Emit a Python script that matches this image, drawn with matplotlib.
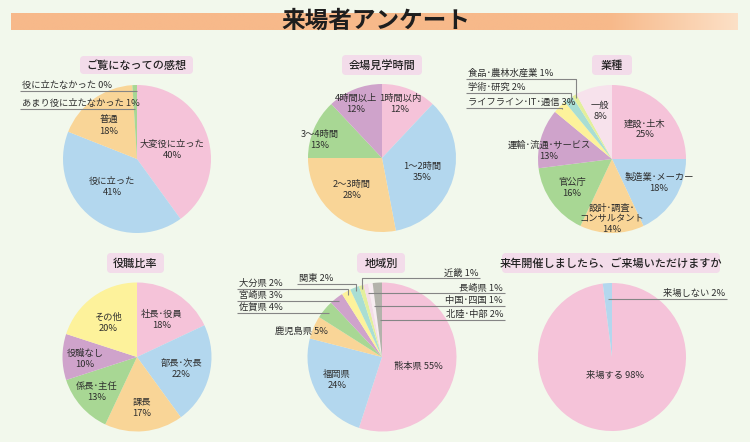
import matplotlib
matplotlib.use("Agg")
import matplotlib.pyplot as plt
import numpy as np
from matplotlib.patches import FancyBboxPatch
from matplotlib.colors import to_rgb

plt.rcParams['font.family'] = ['Noto Sans CJK JP', 'DejaVu Sans']

# ---------------- data ----------------
title = "来場者アンケート"

impr_title = "ご覧になっての感想"
impr_labels = ["大変役に立った", "役に立った", "普通", "あまり役に立たなかった", "役に立たなかった"]
impr_values = [40, 41, 18, 1, 0]

time_title = "会場見学時間"
time_labels = ["1時間以内", "1～2時間", "2～3時間", "3～4時間", "4時間以上"]
time_values = [12, 35, 28, 13, 12]

ind_title = "業種"
ind_labels = ["建設･土木", "製造業･メーカー", "設計･調査･\nコンサルタント", "官公庁",
              "運輸･流通･サービス", "ライフライン･IT･通信", "学術･研究", "食品･農林水産業", "一般"]
ind_values = [25, 18, 14, 16, 13, 3, 2, 1, 8]

pos_title = "役職比率"
pos_labels = ["社長･役員", "部長･次長", "課長", "係長･主任", "役職なし", "その他"]
pos_values = [18, 22, 17, 13, 10, 20]

reg_title = "地域別"
reg_labels = ["熊本県", "福岡県", "鹿児島県", "佐賀県", "宮崎県", "大分県", "関東",
              "近畿", "長崎県", "中国･四国", "北陸･中部"]
reg_values = [55, 24, 5, 4, 3, 2, 2, 1, 1, 1, 2]

next_title = "来年開催しましたら、ご来場いただけますか"
next_labels = ["来場する", "来場しない"]
next_values = [98, 2]

# ---------------- style ----------------
W, H = 750, 442
BG = '#f2f8ec'
TXT = '#2e2e2e'
LINE = '#858585'
BOX = '#f3dcea'
PINK = '#f5c3d9'; BLUE = '#b3d7ee'; PEACH = '#f9d597'; GREEN = '#a8d794'
PURPLE = '#cfa3cb'; YELLOW = '#fdf29b'; LPINK = '#f7e2ec'; TEAL = '#a9ded3'
YGREEN = '#e3ef9c'; GREY = '#b3b3ab'; LPINK2 = '#f4dde8'; WPINK = '#f8edf2'

FS = 6.7

fig = plt.figure(figsize=(7.5, 4.42), dpi=100, facecolor=BG)
ov = fig.add_axes([0, 0, 1, 1], zorder=5)
ov.patch.set_alpha(0)
ov.axis('off')


def draw_pie(cx, cy, r, values, colors):
    ax = fig.add_axes([(cx - r) / W, 1 - (cy + r) / H, 2 * r / W, 2 * r / H], zorder=1)
    ax.pie(values, colors=colors, startangle=90, counterclock=False, radius=1,
           wedgeprops=dict(linewidth=0))
    ax.set_xlim(-1, 1); ax.set_ylim(-1, 1)
    ax.axis('off')
    return ax


def mid_angle(values, i):
    tot = float(sum(values))
    return 2 * np.pi * (sum(values[:i]) + values[i] / 2.0) / tot


def leader(cx, cy, r, values, i, y_ul, x_text):
    th = mid_angle(values, i)
    c = np.cos(th)
    d = (cy - y_ul) / c if c > 1e-6 else np.inf
    if d <= 0.93 * r:
        tx = cx + d * np.sin(th)
        xs, ys = [x_text, tx], [y_ul, y_ul]
    else:
        px = cx + 0.95 * r * np.sin(th)
        py = cy - 0.95 * r * np.cos(th)
        xs, ys = [x_text, px, px], [y_ul, y_ul, py]
    ov.plot(xs, ys, color=LINE, lw=0.8, solid_capstyle='butt', zorder=6)


def box_title(x0, x1, y0, y1, text):
    ov.add_patch(FancyBboxPatch((x0, y0), x1 - x0, y1 - y0,
                                boxstyle="round,pad=0,rounding_size=4",
                                fc=BOX, ec='none', zorder=2))
    ov.text((x0 + x1) / 2, (y0 + y1) / 2 + 0.5, text, ha='center', va='center',
            fontsize=8, color='#222222', weight='medium', zorder=3)


def inner(x, y, name, v, one_line=False):
    s = f"{name} {v}%" if one_line else f"{name}\n{v}%"
    ov.text(x, y, s, ha='center', va='center', fontsize=FS, color=TXT,
            linespacing=1.25, zorder=7)


def outer(x, y, name, v, ha):
    ov.text(x, y, f"{name} {v}%", ha=ha, va='center', fontsize=FS, color=TXT, zorder=7)


# ---------------- title band ----------------
n = 400
xs = np.linspace(11, 738, n)
t = np.clip((xs - 610) / (738 - 610), 0, 1)[:, None]
c0 = np.array(to_rgb('#f7b98a')); c1 = np.array(to_rgb('#fce0c6'))
grad = (c0 * (1 - t) + c1 * t)[None, :, :]
ov.imshow(grad, extent=[11, 738, 30, 13], aspect='auto', zorder=1, interpolation='bilinear')
ov.text(376, 21, title, ha='center', va='center', fontsize=17, weight='bold',
        color='#1e1e1e', zorder=3)

# ---------------- pie 1 : impressions ----------------
cx, cy, r = 137, 159, 74
draw_pie(cx, cy, r, impr_values, [PINK, BLUE, PEACH, GREEN, PURPLE])
box_title(80, 193, 56, 74, impr_title)
inner(172, 150, impr_labels[0], impr_values[0])
inner(112, 187, impr_labels[1], impr_values[1])
inner(109, 126, impr_labels[2], impr_values[2])
outer(22, 85, impr_labels[4], impr_values[4], 'left')
leader(cx, cy, r, impr_values, 4, 91, 20)
outer(22, 103, impr_labels[3], impr_values[3], 'left')
leader(cx, cy, r, impr_values, 3, 109, 20)

# ---------------- pie 2 : time ----------------
cx, cy, r = 382, 158, 74
draw_pie(cx, cy, r, time_values, [PINK, BLUE, PEACH, GREEN, PURPLE])
box_title(342, 422, 55, 75, time_title)
inner(400, 104, time_labels[0], time_values[0])
inner(422, 172, time_labels[1], time_values[1])
inner(352, 190, time_labels[2], time_values[2])
inner(320, 140, time_labels[3], time_values[3])
inner(356, 104, time_labels[4], time_values[4])

# ---------------- pie 3 : industry ----------------
cx, cy, r = 612, 159, 74
draw_pie(cx, cy, r, ind_values, [PINK, BLUE, PEACH, GREEN, PURPLE, YELLOW, TEAL, YGREEN, LPINK])
box_title(592, 632, 55, 75, ind_title)
inner(645, 129, ind_labels[0], ind_values[0])
inner(659, 183, ind_labels[1], ind_values[1])
inner(612, 219, ind_labels[2], ind_values[2])
inner(572, 188, ind_labels[3], ind_values[3])
inner(549, 151, ind_labels[4], ind_values[4])
inner(600, 111, ind_labels[8], ind_values[8])
outer(468, 73, ind_labels[7], ind_values[7], 'left')
leader(cx, cy, r, ind_values, 7, 79, 466)
outer(468, 87, ind_labels[6], ind_values[6], 'left')
leader(cx, cy, r, ind_values, 6, 93, 466)
outer(468, 102, ind_labels[5], ind_values[5], 'left')
leader(cx, cy, r, ind_values, 5, 108, 466)

# ---------------- pie 4 : positions ----------------
cx, cy, r = 137, 357, 74.5
draw_pie(cx, cy, r, pos_values, [PINK, BLUE, PEACH, GREEN, PURPLE, YELLOW])
box_title(107, 164, 253, 273, pos_title)
inner(162, 320, pos_labels[0], pos_values[0])
inner(181, 369, pos_labels[1], pos_values[1])
inner(142, 408, pos_labels[2], pos_values[2])
inner(97, 392, pos_labels[3], pos_values[3])
inner(85, 359, pos_labels[4], pos_values[4])
inner(108, 323, pos_labels[5], pos_values[5])

# ---------------- pie 5 : regions ----------------
cx, cy, r = 382, 357, 74.5
draw_pie(cx, cy, r, reg_values, [PINK, BLUE, PEACH, GREEN, PURPLE, YELLOW, TEAL,
                                 YGREEN, LPINK2, WPINK, GREY])
box_title(357, 405, 253, 273, reg_title)
inner(418, 366, reg_labels[0], reg_values[0], one_line=True)
inner(337, 380, reg_labels[1], reg_values[1])
outer(328, 331, reg_labels[2], reg_values[2], 'right')
# left side
outer(239, 283, reg_labels[5], reg_values[5], 'left')
leader(cx, cy, r, reg_values, 5, 289, 237)
outer(239, 295, reg_labels[4], reg_values[4], 'left')
leader(cx, cy, r, reg_values, 4, 301, 237)
outer(239, 307, reg_labels[3], reg_values[3], 'left')
leader(cx, cy, r, reg_values, 3, 313, 237)
outer(299, 278, reg_labels[6], reg_values[6], 'left')
leader(cx, cy, r, reg_values, 6, 284, 297)
# right side
outer(478, 273, reg_labels[7], reg_values[7], 'right')
leader(cx, cy, r, reg_values, 7, 278, 480)
outer(503, 288, reg_labels[8], reg_values[8], 'right')
leader(cx, cy, r, reg_values, 8, 293, 505)
outer(503, 301, reg_labels[9], reg_values[9], 'right')
leader(cx, cy, r, reg_values, 9, 306, 505)
outer(503, 315, reg_labels[10], reg_values[10], 'right')
leader(cx, cy, r, reg_values, 10, 320, 505)

# ---------------- pie 6 : next year ----------------
cx, cy, r = 612, 357, 74
draw_pie(cx, cy, r, next_values, [PINK, BLUE])
box_title(502, 720, 253, 273, next_title)
inner(615, 375, next_labels[0], next_values[0], one_line=True)
outer(725, 293, next_labels[1], next_values[1], 'right')
leader(cx, cy, r, next_values, 1, 299, 727)

ov.set_xlim(0, W)
ov.set_ylim(H, 0)

fig.savefig("out.png", dpi=100, facecolor=BG)
